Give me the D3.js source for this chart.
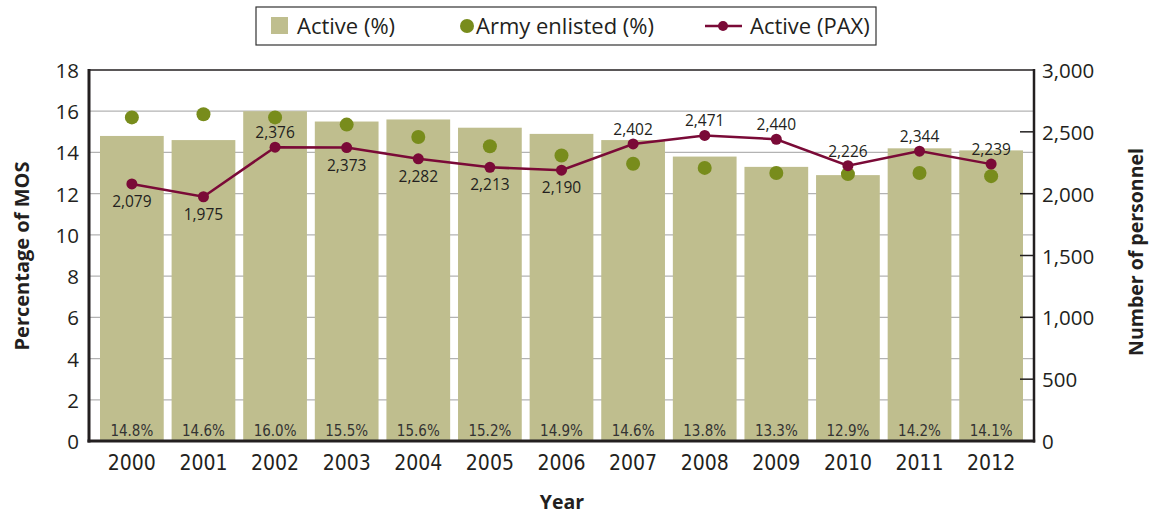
<!DOCTYPE html>
<html>
<head>
<meta charset="utf-8">
<script src="https://cdn.jsdelivr.net/npm/d3@7"></script>
<style>
  body { margin: 0; background: #fff; }
  svg { font-family: "Open Sans", "DejaVu Sans", sans-serif; }
  .cond { font-family: "Liberation Sans Narrow", "DejaVu Sans Condensed", sans-serif; }
</style>
</head>
<body>
<div id="chart"></div>
<script>
// data
var years = ["2000","2001","2002","2003","2004","2005","2006","2007","2008","2009","2010","2011","2012"];
var activePct = [14.8, 14.6, 16.0, 15.5, 15.6, 15.2, 14.9, 14.6, 13.8, 13.3, 12.9, 14.2, 14.1];
var armyEnlistedPct = [15.7, 15.85, 15.7, 15.35, 14.75, 14.3, 13.85, 13.45, 13.25, 13.0, 12.95, 13.0, 12.85];
var activePax = [2079, 1975, 2376, 2373, 2282, 2213, 2190, 2402, 2471, 2440, 2226, 2344, 2239];
var leftTicks = [0, 2, 4, 6, 8, 10, 12, 14, 16, 18];
var rightTicks = [0, 500, 1000, 1500, 2000, 2500, 3000];

var W = 1149, H = 514;
var plot = {left: 89, right: 1034, top: 70, bottom: 441};

var barCol = "#bfbe8e", dotCol = "#788c1c", lineCol = "#7a0a37", ink = "#231f20";

const svg = d3.select("#chart").append("svg")
    .attr("width", W).attr("height", H);

var x = d3.scaleBand().domain(years).range([100, 1023]).paddingInner(0.11).paddingOuter(0);
var yL = d3.scaleLinear().domain([0, 18]).range([plot.bottom, plot.top]);
var yR = d3.scaleLinear().domain([0, 3000]).range([plot.bottom, plot.top]);
var cx = d => x(d) + x.bandwidth() / 2;

// gridlines
svg.append("g").selectAll("line")
    .data(leftTicks.filter(d => d > 0 && d < 18))
    .join("line")
    .attr("x1", plot.left).attr("x2", plot.right)
    .attr("y1", d => yL(d)).attr("y2", d => yL(d))
    .attr("stroke", "#b3b3b3").attr("stroke-width", 1.2);

// bars
svg.append("g").selectAll("rect")
    .data(years)
    .join("rect")
    .attr("x", d => x(d))
    .attr("width", x.bandwidth())
    .attr("y", (d, i) => yL(activePct[i]))
    .attr("height", (d, i) => yL(0) - yL(activePct[i]))
    .attr("fill", barCol);

// percent labels in bars
svg.append("g").selectAll("text")
    .data(years)
    .join("text")
    .attr("class", "cond")
    .attr("x", cx)
    .attr("y", plot.bottom - 5)
    .attr("text-anchor", "middle")
    .attr("font-size", 15)
    .attr("fill", "#333")
    .text((d, i) => activePct[i].toFixed(1) + "%");

// army enlisted dots
svg.append("g").selectAll("circle")
    .data(years)
    .join("circle")
    .attr("cx", cx)
    .attr("cy", (d, i) => yL(armyEnlistedPct[i]))
    .attr("r", 7)
    .attr("fill", dotCol);

// active PAX line
var line = d3.line()
    .x((d, i) => cx(years[i]))
    .y(d => yR(d));

svg.append("path")
    .datum(activePax)
    .attr("d", line)
    .attr("fill", "none")
    .attr("stroke", lineCol)
    .attr("stroke-width", 2.5);

svg.append("g").selectAll("circle")
    .data(activePax)
    .join("circle")
    .attr("cx", (d, i) => cx(years[i]))
    .attr("cy", d => yR(d))
    .attr("r", 5.5)
    .attr("fill", lineCol);

// labels: below for the early years, above afterwards (as in the original)
var labelBelow = [true, true, false, true, true, true, true, false, false, false, false, false, false];
svg.append("g").selectAll("text")
    .data(activePax)
    .join("text")
    .attr("x", (d, i) => cx(years[i]))
    .attr("y", (d, i) => yR(d) + (labelBelow[i] ? 23 : -9))
    .attr("text-anchor", "middle")
    .attr("font-size", 15.5)
    .attr("fill", ink)
    .text(d => d3.format(",")(d));

// frame / axes
svg.append("line").attr("x1", plot.left).attr("x2", plot.right).attr("y1", plot.top).attr("y2", plot.top)
    .attr("stroke", ink).attr("stroke-width", 1.5);
svg.append("line").attr("x1", plot.left).attr("x2", plot.left).attr("y1", plot.top - 1).attr("y2", plot.bottom + 1.5)
    .attr("stroke", ink).attr("stroke-width", 3);
svg.append("line").attr("x1", plot.right).attr("x2", plot.right).attr("y1", plot.top - 1).attr("y2", plot.bottom + 1.5)
    .attr("stroke", ink).attr("stroke-width", 2.5);
svg.append("line").attr("x1", plot.left - 1.5).attr("x2", plot.right + 1.2).attr("y1", plot.bottom).attr("y2", plot.bottom)
    .attr("stroke", ink).attr("stroke-width", 3);

// right axis inner ticks
svg.append("g").selectAll("line")
    .data(rightTicks.filter(d => d > 0 && d < 3000))
    .join("line")
    .attr("x1", plot.right - 14).attr("x2", plot.right)
    .attr("y1", d => yR(d)).attr("y2", d => yR(d))
    .attr("stroke", ink).attr("stroke-width", 1.5);

// tick labels
svg.append("g").selectAll("text")
    .data(leftTicks)
    .join("text")
    .attr("x", 79).attr("y", d => yL(d) + 8)
    .attr("text-anchor", "end")
    .attr("font-size", 20.5)
    .attr("fill", ink)
    .text(d => d);

svg.append("g").selectAll("text")
    .data(rightTicks)
    .join("text")
    .attr("x", 1042).attr("y", d => yR(d) + 8)
    .attr("font-size", 20.5)
    .attr("fill", ink)
    .text(d => d3.format(",")(d));

svg.append("g").selectAll("text")
    .data(years)
    .join("text")
    .attr("class", "cond")
    .attr("x", cx)
    .attr("y", 470)
    .attr("text-anchor", "middle")
    .attr("font-size", 21)
    .attr("fill", ink)
    .text(d => d);

// axis titles
svg.append("text")
    .attr("transform", "translate(29,256) rotate(-90)")
    .attr("text-anchor", "middle")
    .attr("font-size", 20).attr("font-weight", "bold").attr("fill", ink)
    .text("Percentage of MOS");
svg.append("text")
    .attr("transform", "translate(1143,252) rotate(-90)")
    .attr("text-anchor", "middle")
    .attr("font-size", 19.5).attr("font-weight", "bold").attr("fill", ink)
    .text("Number of personnel");
svg.append("text")
    .attr("x", 562).attr("y", 509)
    .attr("text-anchor", "middle")
    .attr("font-size", 19.5).attr("font-weight", "bold").attr("fill", ink)
    .text("Year");

// legend
var lg = svg.append("g");
lg.append("rect").attr("x", 256).attr("y", 7).attr("width", 620).attr("height", 38)
    .attr("fill", "#fff").attr("stroke", "#333").attr("stroke-width", 1.2);
lg.append("rect").attr("x", 271).attr("y", 17).attr("width", 17).attr("height", 17).attr("fill", barCol);
lg.append("text").attr("x", 297).attr("y", 34).attr("font-size", 22).attr("fill", ink).text("Active (%)");
lg.append("circle").attr("cx", 467).attr("cy", 26).attr("r", 7).attr("fill", dotCol);
lg.append("text").attr("x", 476).attr("y", 34).attr("font-size", 22).attr("fill", ink).text("Army enlisted (%)");
lg.append("line").attr("x1", 705).attr("x2", 742).attr("y1", 26).attr("y2", 26)
    .attr("stroke", lineCol).attr("stroke-width", 2.5);
lg.append("circle").attr("cx", 723).attr("cy", 26).attr("r", 5).attr("fill", lineCol);
lg.append("text").attr("x", 750).attr("y", 34).attr("font-size", 22).attr("fill", ink).text("Active (PAX)");
</script>
</body>
</html>
